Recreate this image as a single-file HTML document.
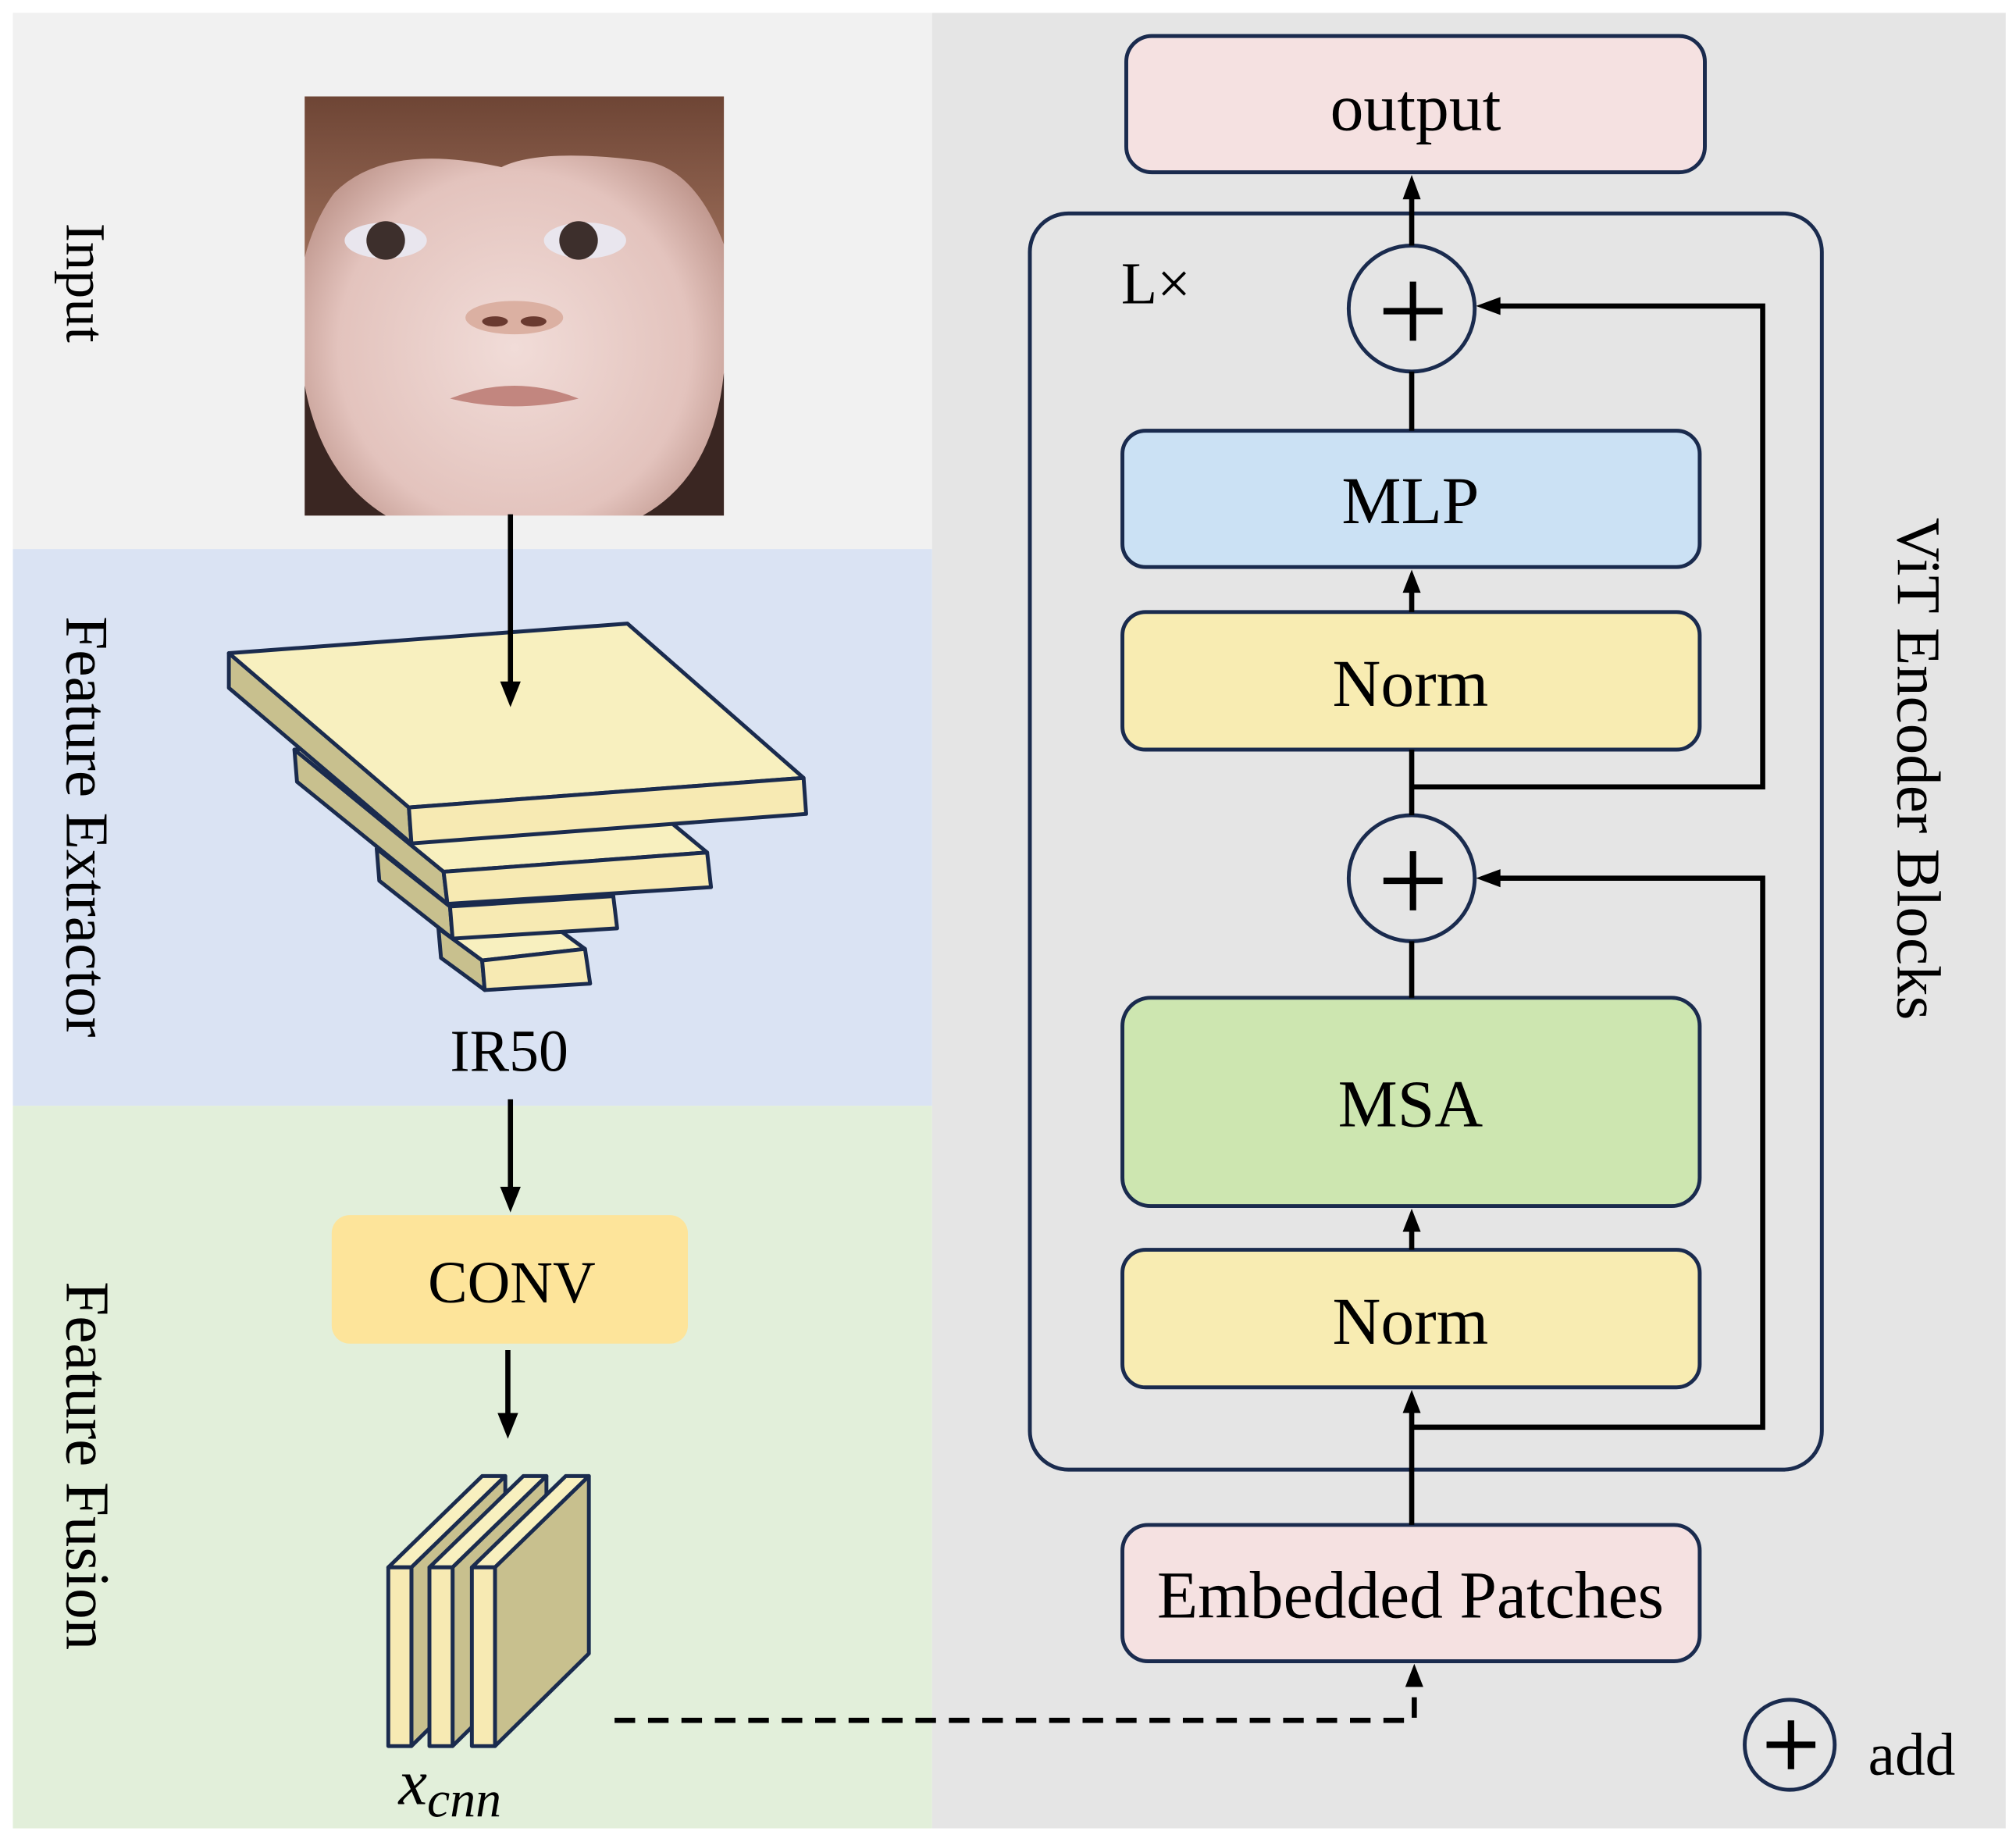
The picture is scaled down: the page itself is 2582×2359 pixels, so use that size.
<!DOCTYPE html>
<html><head><meta charset="utf-8"><style>html,body{margin:0;padding:0;background:#fff}svg{display:block}</style></head>
<body>
<svg width="2582" height="2359" viewBox="0 0 1568 1432.6" xmlns="http://www.w3.org/2000/svg" font-family="'Liberation Serif', serif">
<defs>
<radialGradient id="skin" cx="0.5" cy="0.6" r="0.6"><stop offset="0" stop-color="#f1dcd8"/><stop offset="0.7" stop-color="#e3c3bd"/><stop offset="1" stop-color="#b98f85"/></radialGradient>
<linearGradient id="hair" x1="0" y1="0" x2="0" y2="1"><stop offset="0" stop-color="#6e4535"/><stop offset="1" stop-color="#9a6c58"/></linearGradient>
</defs>
<rect width="1568" height="1432.6" fill="#fff"/>
<rect x="10" y="10" width="715" height="417" fill="#f1f1f1"/>
<rect x="10" y="427" width="715" height="433" fill="#dae3f3"/>
<rect x="10" y="860" width="715" height="562" fill="#e2efda"/>
<rect x="725" y="10" width="835" height="1412" fill="#e5e5e5"/>

<!-- photo -->
<g>
<rect x="237" y="75" width="326" height="326" fill="url(#skin)"/>
<path d="M237,75 H563 V190 Q540,130 500,125 Q420,115 390,130 Q300,110 260,150 Q245,170 237,200 Z" fill="url(#hair)"/>
<path d="M237,300 Q250,370 300,401 H237 Z" fill="#3a2622"/>
<path d="M563,290 Q555,370 500,401 H563 Z" fill="#3a2622"/>
<ellipse cx="300" cy="187" rx="32" ry="14" fill="#e9e6ee"/><circle cx="300" cy="187" r="15" fill="#3d2f2c"/>
<ellipse cx="455" cy="187" rx="32" ry="14" fill="#e9e6ee"/><circle cx="450" cy="187" r="15" fill="#3d2f2c"/>
<ellipse cx="400" cy="247" rx="38" ry="13" fill="#dbb0a2"/>
<ellipse cx="385" cy="250" rx="10" ry="4" fill="#6a3a30"/><ellipse cx="415" cy="250" rx="10" ry="4" fill="#6a3a30"/>
<path d="M350,310 Q400,290 450,310 Q400,322 350,310 Z" fill="#c2867f"/>
</g>

<!-- feature extractor stack -->
<g stroke="#1a2b4e" stroke-width="3" stroke-linejoin="round">
<polygon points="341,722 375,747 377,770 343,745" fill="#c8c08e"/>
<polygon points="341,722 425,716 455,738 375,747" fill="#f8f0bf"/>
<polygon points="375,747 455,738 459,765 377,770" fill="#f7eab3"/>
<polygon points="293,660 350,705 352,730 295,685" fill="#c8c08e"/>
<polygon points="293,660 421,652 477,697 350,705" fill="#f8f0bf"/>
<polygon points="350,705 477,697 480,722 352,730" fill="#f7eab3"/>
<polygon points="229,583 345,678 348,703 231,608" fill="#c8c08e"/>
<polygon points="229,583 434,567 550,663 345,678" fill="#f8f0bf"/>
<polygon points="345,678 550,663 553,690 348,703" fill="#f7eab3"/>
<polygon points="178,508 318,628 320,656 178,535" fill="#c8c08e"/>
<polygon points="178,508 488,485 625,605 318,628" fill="#f8f0bf"/>
<polygon points="318,628 625,605 627,633 320,656" fill="#f7eab3"/>
</g>
<line x1="397" y1="400" x2="397" y2="532" stroke="#000" stroke-width="4"/>
<polygon points="397,550 389,530 405,530" fill="#000"/>
<text x="396" y="833" font-size="46" text-anchor="middle">IR50</text>
<line x1="397" y1="855" x2="397" y2="925" stroke="#000" stroke-width="4"/>
<polygon points="397,943 389,923 405,923" fill="#000"/>
<rect x="258" y="945" width="277" height="100" rx="14" fill="#fde49a"/>
<text x="398" y="1013" font-size="46" text-anchor="middle">CONV</text>
<line x1="395" y1="1050" x2="395" y2="1102" stroke="#000" stroke-width="4"/>
<polygon points="395,1119 387,1099 403,1099" fill="#000"/>

<!-- xcnn slabs -->
<g stroke="#1a2b4e" stroke-width="3" stroke-linejoin="round">
<g transform="translate(302,0)"><polygon points="0,1219 73,1148 91,1148 18,1219" fill="#f8f0bf"/><polygon points="18,1219 91,1148 91,1286 18,1358" fill="#c8c08e"/><rect x="0" y="1219" width="18" height="139" fill="#f7eab3"/></g>
<g transform="translate(334,0)"><polygon points="0,1219 73,1148 91,1148 18,1219" fill="#f8f0bf"/><polygon points="18,1219 91,1148 91,1286 18,1358" fill="#c8c08e"/><rect x="0" y="1219" width="18" height="139" fill="#f7eab3"/></g>
<g transform="translate(367,0)"><polygon points="0,1219 73,1148 91,1148 18,1219" fill="#f8f0bf"/><polygon points="18,1219 91,1148 91,1286 18,1358" fill="#c8c08e"/><rect x="0" y="1219" width="18" height="139" fill="#f7eab3"/></g>
</g>
<text x="310" y="1403" font-size="50" font-style="italic">x<tspan font-size="40" dy="10">cnn</tspan></text>

<!-- vertical labels -->
<text transform="translate(52,220) rotate(90)" font-size="44" text-anchor="middle">Input</text>
<text transform="translate(52,643) rotate(90)" font-size="47" text-anchor="middle">Feature Extractor</text>
<text transform="translate(52,1140) rotate(90)" font-size="48" text-anchor="middle">Feature Fusion</text>
<text transform="translate(1476,598) rotate(90)" font-size="48" text-anchor="middle">ViT Encoder Blocks</text>

<!-- right side -->
<g stroke="#1a2b4e" stroke-width="3">
<rect x="801" y="166" width="616" height="977" rx="30" fill="none"/>
<rect x="876" y="28" width="450" height="106" rx="20" fill="#f5e1e1"/>
<rect x="873" y="335" width="449" height="106" rx="18" fill="#cbe1f4"/>
<rect x="873" y="476" width="449" height="107" rx="18" fill="#f8ecb2"/>
<rect x="873" y="776" width="449" height="162" rx="22" fill="#cde6b0"/>
<rect x="873" y="972" width="449" height="107" rx="18" fill="#f8ecb2"/>
<rect x="873" y="1186" width="449" height="106" rx="20" fill="#f5e1e1"/>
<circle cx="1098" cy="240" r="49" fill="none"/>
<circle cx="1098" cy="683" r="49" fill="none"/>
<circle cx="1392" cy="1357" r="35" fill="none"/>
</g>
<g stroke="#000" stroke-width="4" fill="none">
<line x1="1098" y1="191" x2="1098" y2="152"/>
<line x1="1098" y1="335" x2="1098" y2="289"/>
<line x1="1098" y1="476" x2="1098" y2="458"/>
<line x1="1098" y1="583" x2="1098" y2="634"/>
<polyline points="1098,612 1371,612 1371,238 1165,238"/>
<line x1="1098" y1="776" x2="1098" y2="732"/>
<line x1="1098" y1="972" x2="1098" y2="955"/>
<line x1="1098" y1="1186" x2="1098" y2="1096"/>
<polyline points="1098,1110 1371,1110 1371,683 1165,683"/>
<polyline points="478,1338 1100,1338 1100,1310" stroke-dasharray="16,10"/>
</g>
<g fill="#000">
<polygon points="1098,136 1091,155 1105,155"/>
<polygon points="1098,443 1091,461 1105,461"/>
<polygon points="1098,940 1091,958 1105,958"/>
<polygon points="1098,1081 1091,1099 1105,1099"/>
<polygon points="1100,1294 1093,1312 1107,1312"/>
<polygon points="1148,238 1167,231 1167,245"/>
<polygon points="1148,683 1167,676 1167,690"/>
</g>
<g stroke="#000" stroke-width="5">
<line x1="1076" y1="242" x2="1122" y2="242"/><line x1="1099" y1="219" x2="1099" y2="265"/>
<line x1="1076" y1="685" x2="1122" y2="685"/><line x1="1099" y1="662" x2="1099" y2="708"/>
<line x1="1374" y1="1357" x2="1412" y2="1357"/><line x1="1393" y1="1338" x2="1393" y2="1376"/>
</g>
<g font-size="52" text-anchor="middle">
<text x="1101" y="101">output</text>
<text x="1097" y="407">MLP</text>
<text x="1097" y="549">Norm</text>
<text x="1097" y="876">MSA</text>
<text x="1097" y="1045">Norm</text>
<text x="1097" y="1258">Embedded Patches</text>
</g>
<text x="872" y="236" font-size="46">L×</text>
<text x="1453" y="1380" font-size="47">add</text>
</svg>
</body></html>
